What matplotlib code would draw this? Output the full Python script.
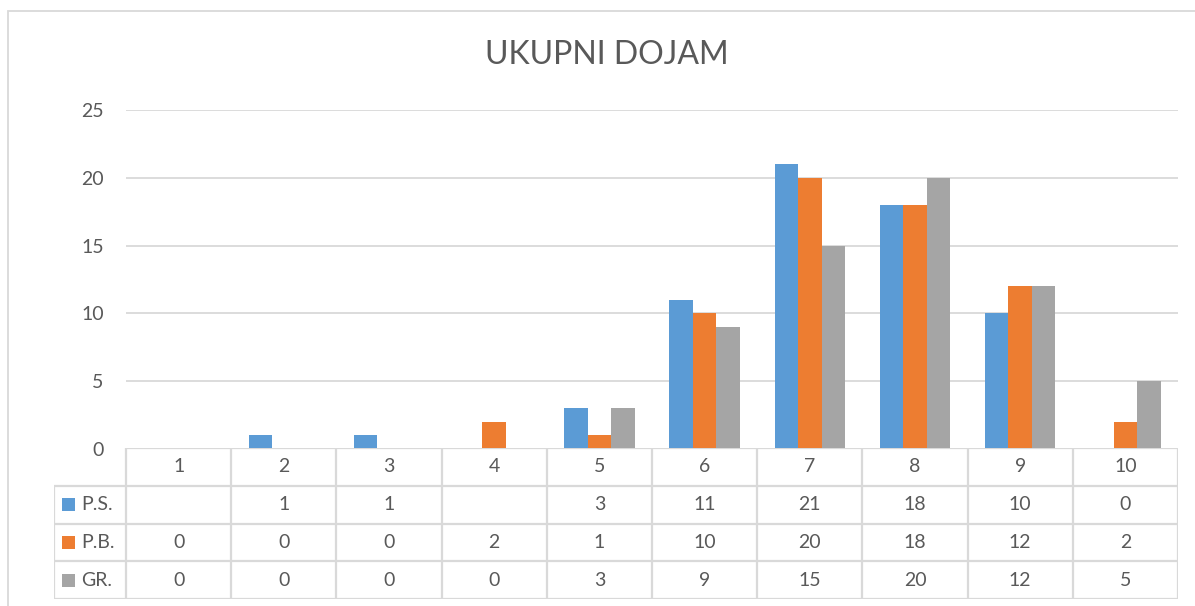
import numpy as np
import matplotlib
matplotlib.use("Agg")
import matplotlib.pyplot as plt
from matplotlib.patches import Rectangle

plt.rcParams["font.family"] = ["Lato", "DejaVu Sans"]

categories = ["1", "2", "3", "4", "5", "6", "7", "8", "9", "10"]
series_names = ["P.S.", "P.B.", "GR."]
ps_vals = [np.nan, 1, 1, np.nan, 3, 11, 21, 18, 10, 0]
pb_vals = [0, 0, 0, 2, 1, 10, 20, 18, 12, 2]
gr_vals = [0, 0, 0, 0, 3, 9, 15, 20, 12, 5]
yticks = [0, 5, 10, 15, 20, 25]

COLORS = ["#5B9BD5", "#ED7D31", "#A5A5A5"]
GRID = "#D9D9D9"
TXT = "#595959"
FS = 14

W, H = 1195, 606
fig = plt.figure(figsize=(W / 100, H / 100), dpi=100)


def fx(px):
    return px / W


def fy(py):
    return 1 - py / H


# chart border (right/bottom run off the image)
fig.patches.append(Rectangle((fx(8), fy(H + 5)), fx(W + 5 - 8), fy(11) - fy(H + 5),
                             transform=fig.transFigure, fill=False,
                             edgecolor=GRID, lw=1.3))

x0, x1, y0, y25 = 126, 1178, 449, 110
ax = fig.add_axes([fx(x0), fy(y0), fx(x1 - x0), fy(y25) - fy(y0)])
n = len(categories)
x = np.arange(1, n + 1)
bw = 0.223
for i, (vals, c) in enumerate(zip([ps_vals, pb_vals, gr_vals], COLORS)):
    ax.bar(x + (i - 1) * bw, vals, width=bw, color=c, zorder=3)

ax.set_xlim(0.5, n + 0.5)
ax.set_ylim(0, 25)
ax.set_yticks(yticks)
ax.set_xticks([])
ax.grid(axis="y", color=GRID, lw=1.3, zorder=0)
for s in ax.spines.values():
    s.set_visible(False)
ax.tick_params(axis="y", length=0, pad=16, labelsize=FS, labelcolor=TXT)

fig.text(fx(607), fy(55), "UKUPNI DOJAM", ha="center", va="center",
         fontsize=23, color=TXT)

# data table below the axis
tl, tt, tb = 54, 448, 599
leg_w = (x0 - tl) / ((x1 - x0) / n)
tax = fig.add_axes([fx(tl), fy(tb), fx(x1 - tl), fy(tt) - fy(tb)])
tax.set_xlim(0.5 - leg_w, n + 0.5)
tax.set_ylim(4, 0)
tax.axis("off")
lk = dict(color=GRID, lw=1.6, solid_capstyle="butt")
left = 0.5 - leg_w
# horizontal lines
tax.plot([0.5, n + 0.5], [0, 0], **lk)
for r in range(1, 5):
    tax.plot([left, n + 0.5], [r, r], **lk)
# vertical lines
tax.plot([left, left], [1, 4], **lk)
for c in range(n + 1):
    tax.plot([0.5 + c, 0.5 + c], [0, 4], **lk)

for j, cat in enumerate(categories):
    tax.text(j + 1, 0.5, cat, ha="center", va="center", fontsize=FS, color=TXT)
for r, (name, vals, c) in enumerate(zip(series_names, [ps_vals, pb_vals, gr_vals], COLORS)):
    yy = r + 1.5
    tax.add_patch(Rectangle((left + 0.08, yy - 0.17), 0.115, 0.34, color=c, lw=0))
    tax.text(left + 0.26, yy, name, ha="left", va="center", fontsize=FS, color=TXT)
    for j, v in enumerate(vals):
        if not np.isnan(v):
            tax.text(j + 1, yy, f"{v:g}", ha="center", va="center", fontsize=FS, color=TXT)

fig.savefig("out.png", dpi=100)
